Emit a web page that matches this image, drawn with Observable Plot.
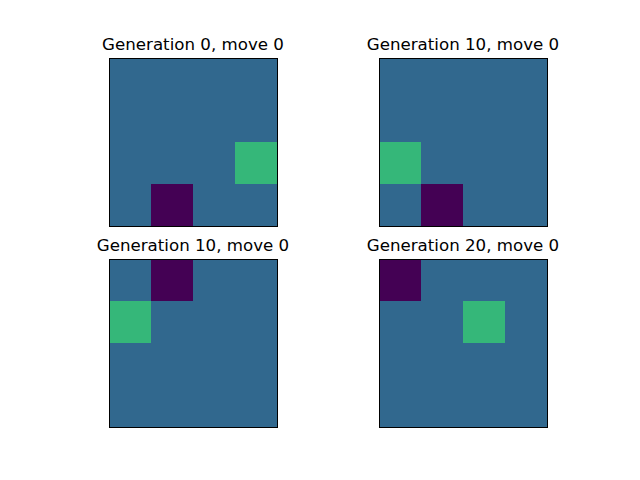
<!DOCTYPE html>
<html>
<head>
<meta charset="utf-8">
<script src="https://cdn.jsdelivr.net/npm/d3@7"></script>
<script src="https://cdn.jsdelivr.net/npm/@observablehq/plot@0.6"></script>
<style>
  html, body { margin: 0; padding: 0; background: #fff; }
  #chart { position: relative; width: 640px; height: 480px; font-family: "DejaVu Sans", sans-serif; }
  .title { position: absolute; width: 240px; text-align: center; font-size: 16.67px; line-height: 20px; color: #000; white-space: nowrap; }
  .panel { position: absolute; }
</style>
</head>
<body>
<div id="chart"></div>
<script>
// 4x4 board states, row by row from the top: 0 = agent, 1 = empty, 2 = goal
const titles = ["Generation 0, move 0", "Generation 10, move 0", "Generation 10, move 0", "Generation 20, move 0"];
const board0 = [
  [1, 1, 1, 1],
  [1, 1, 1, 1],
  [1, 1, 1, 2],
  [1, 0, 1, 1],
];
const board1 = [
  [1, 1, 1, 1],
  [1, 1, 1, 1],
  [2, 1, 1, 1],
  [1, 0, 1, 1],
];
const board2 = [
  [1, 0, 1, 1],
  [2, 1, 1, 1],
  [1, 1, 1, 1],
  [1, 1, 1, 1],
];
const board3 = [
  [0, 1, 1, 1],
  [1, 1, 2, 1],
  [1, 1, 1, 1],
  [1, 1, 1, 1],
];
const boards = [board0, board1, board2, board3];
const cellColors = ["#440154", "#31688e", "#35b779"];

// panel placement (top-left of the image area) in the 640x480 page
const origins = [[109, 58], [379, 58], [109, 259], [379, 259]];
const side = 168;

const root = document.getElementById("chart");

boards.forEach((board, k) => {
  const cells = [];
  board.forEach((row, r) => row.forEach((v, c) => cells.push({ r, c, v })));
  const [ox, oy] = origins[k];

  const fig = Plot.plot({
    width: side + 2,
    height: side + 2,
    margin: 1,
    x: { type: "band", domain: [0, 1, 2, 3], padding: 0, axis: null },
    y: { type: "band", domain: [0, 1, 2, 3], padding: 0, axis: null },
    color: { type: "ordinal", domain: [0, 1, 2], range: cellColors },
    marks: [
      Plot.cell(cells, { x: "c", y: "r", fill: "v", inset: 0, shapeRendering: "crispEdges" }),
      Plot.frame({ stroke: "black", strokeWidth: 1 }),
    ],
  });
  const wrap = document.createElement("div");
  wrap.className = "panel";
  wrap.style.left = (ox - 1) + "px";
  wrap.style.top = (oy - 1) + "px";
  wrap.appendChild(fig);
  root.appendChild(wrap);

  const t = document.createElement("div");
  t.className = "title";
  t.textContent = titles[k];
  t.style.left = (ox + side / 2 - 120) + "px";
  t.style.top = (oy - 23) + "px";
  root.appendChild(t);
});
</script>
</body>
</html>
